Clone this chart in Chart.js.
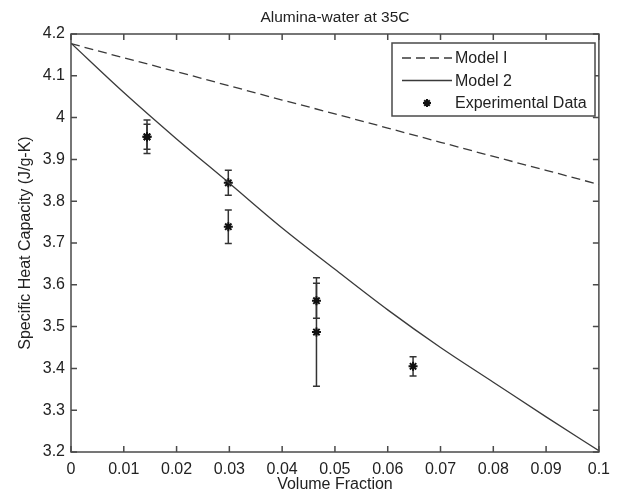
<!DOCTYPE html>
<html>
<head>
<meta charset="utf-8">
<script src="https://cdn.jsdelivr.net/npm/chart.js@4.4.1/dist/chart.umd.min.js"></script>
<style>
  html, body { margin: 0; padding: 0; background: #fff; }
  canvas { display: block; }
</style>
</head>
<body>
<canvas id="heatChart" width="618" height="494"></canvas>
<script>
// model curves at 0.01 steps
const modelPhi = [0, 0.01, 0.02, 0.03, 0.04, 0.05, 0.06, 0.07, 0.08, 0.09, 0.1];
const model1Cp = [4.177, 4.143, 4.110, 4.076, 4.042, 4.009, 3.975, 3.941, 3.907, 3.874, 3.840];
const model2Cp = [4.178, 4.060, 3.949, 3.843, 3.736, 3.637, 3.540, 3.450, 3.367, 3.284, 3.203];

// experimental points with half error bar
const expPhi = [0.0144, 0.0144, 0.0298, 0.0298, 0.0465, 0.0465, 0.0648];
const expCp  = [3.954, 3.954, 3.844, 3.739, 3.562, 3.487, 3.405];
const expErr = [0.040, 0.030, 0.030, 0.040, 0.042, 0.130, 0.023];

const xTickVals = [0, 0.01, 0.02, 0.03, 0.04, 0.05, 0.06, 0.07, 0.08, 0.09, 0.1];
const xTickLabels = ['0', '0.01', '0.02', '0.03', '0.04', '0.05', '0.06', '0.07', '0.08', '0.09', '0.1'];
const yTickVals = [3.2, 3.3, 3.4, 3.5, 3.6, 3.7, 3.8, 3.9, 4.0, 4.1, 4.2];
const yTickLabels = ['3.2', '3.3', '3.4', '3.5', '3.6', '3.7', '3.8', '3.9', '4', '4.1', '4.2'];

const seriesLabels = ['Model I', 'Model 2', 'Experimental Data'];
const titleText = 'Alumina-water at 35C';
const xTitle = 'Volume Fraction';
const yTitle = 'Specific Heat Capacity (J/g-K)';

const FONT = '"Liberation Sans", Arial, sans-serif';
const INK = '#3a3a3a';
const AXIS = '#4a4a4a';

function drawStar(ctx, x, y, r) {
    ctx.beginPath();
    ctx.moveTo(x - r, y); ctx.lineTo(x + r, y);
    ctx.moveTo(x, y - r); ctx.lineTo(x, y + r);
    const d = r * 0.7;
    ctx.moveTo(x - d, y - d); ctx.lineTo(x + d, y + d);
    ctx.moveTo(x - d, y + d); ctx.lineTo(x + d, y - d);
    ctx.stroke();
}

const matlabLook = {
    id: 'matlabLook',
    beforeDatasetsDraw(chart) {
        // error bars under the markers
        const ctx = chart.ctx;
        const xs = chart.scales.x, ys = chart.scales.y;
        ctx.save();
        ctx.strokeStyle = '#333';
        ctx.lineWidth = 1.5;
        expPhi.forEach((p, i) => {
            const px = xs.getPixelForValue(p);
            const top = ys.getPixelForValue(expCp[i] + expErr[i]);
            const bot = ys.getPixelForValue(expCp[i] - expErr[i]);
            ctx.beginPath();
            ctx.moveTo(px, top); ctx.lineTo(px, bot);
            ctx.moveTo(px - 3.5, top); ctx.lineTo(px + 3.5, top);
            ctx.moveTo(px - 3.5, bot); ctx.lineTo(px + 3.5, bot);
            ctx.stroke();
        });
        ctx.restore();
    },
    afterDraw(chart) {
        const ctx = chart.ctx;
        const a = chart.chartArea;
        const xs = chart.scales.x, ys = chart.scales.y;
        ctx.save();

        // box and inward ticks on all four sides
        ctx.strokeStyle = AXIS;
        ctx.lineWidth = 1.5;
        ctx.strokeRect(a.left, a.top, a.right - a.left, a.bottom - a.top);
        ctx.beginPath();
        xTickVals.forEach(v => {
            const px = xs.getPixelForValue(v);
            ctx.moveTo(px, a.bottom); ctx.lineTo(px, a.bottom - 6);
            ctx.moveTo(px, a.top); ctx.lineTo(px, a.top + 6);
        });
        yTickVals.forEach(v => {
            const py = ys.getPixelForValue(v);
            ctx.moveTo(a.left, py); ctx.lineTo(a.left + 6, py);
            ctx.moveTo(a.right, py); ctx.lineTo(a.right - 6, py);
        });
        ctx.stroke();

        // title and axis titles
        ctx.fillStyle = '#222';
        ctx.textAlign = 'center';
        ctx.textBaseline = 'middle';
        ctx.font = '15.5px ' + FONT;
        ctx.fillText(titleText, (a.left + a.right) / 2, 18);
        ctx.font = '16px ' + FONT;
        ctx.fillText(xTitle, (a.left + a.right) / 2, 485);
        ctx.save();
        ctx.translate(26, (a.top + a.bottom) / 2);
        ctx.rotate(-Math.PI / 2);
        ctx.fillText(yTitle, 0, 0);
        ctx.restore();

        // legend box
        const lx = 392, ly = 43, lw = 203, lh = 73;
        ctx.fillStyle = '#fff';
        ctx.fillRect(lx, ly, lw, lh);
        ctx.strokeStyle = AXIS;
        ctx.lineWidth = 1.5;
        ctx.strokeRect(lx, ly, lw, lh);
        const rows = [58, 80.5, 103];
        ctx.strokeStyle = INK;
        ctx.lineWidth = 1.3;
        ctx.setLineDash([9, 5]);
        ctx.beginPath(); ctx.moveTo(402, rows[0]); ctx.lineTo(452, rows[0]); ctx.stroke();
        ctx.setLineDash([]);
        ctx.beginPath(); ctx.moveTo(402, rows[1]); ctx.lineTo(452, rows[1]); ctx.stroke();
        ctx.strokeStyle = '#111';
        ctx.lineWidth = 2;
        drawStar(ctx, 427, rows[2], 4);
        ctx.fillStyle = '#222';
        ctx.textAlign = 'left';
        ctx.font = '16px ' + FONT;
        seriesLabels.forEach((t, i) => ctx.fillText(t, 455, rows[i] + 1));

        ctx.restore();
    }
};

const ctx = document.getElementById('heatChart').getContext('2d');
const heatChart = new Chart(ctx, {
    type: 'scatter',
    data: {
        datasets: [{
            label: seriesLabels[0],
            data: modelPhi.map((p, i) => ({ x: p, y: model1Cp[i] })),
            showLine: true,
            borderColor: INK,
            borderWidth: 1.3,
            borderDash: [9, 5],
            pointRadius: 0
        }, {
            label: seriesLabels[1],
            data: modelPhi.map((p, i) => ({ x: p, y: model2Cp[i] })),
            showLine: true,
            cubicInterpolationMode: 'monotone',
            borderColor: INK,
            borderWidth: 1.3,
            pointRadius: 0
        }, {
            label: seriesLabels[2],
            data: expPhi.map((p, i) => ({ x: p, y: expCp[i] })),
            showLine: false,
            pointStyle: 'star',
            pointRadius: 4.5,
            borderColor: '#111',
            backgroundColor: '#111',
            borderWidth: 2
        }]
    },
    plugins: [matlabLook],
    options: {
        responsive: false,
        animation: false,
        devicePixelRatio: 1,
        layout: { padding: { top: 34, right: 16, left: 0, bottom: 0 } },
        plugins: {
            legend: { display: false },
            tooltip: { enabled: false }
        },
        scales: {
            x: {
                type: 'linear',
                min: 0,
                max: 0.1,
                afterBuildTicks: s => { s.ticks = xTickVals.map(v => ({ value: v })); },
                afterFit: s => { s.height = 42; },
                grid: { display: false, drawTicks: false },
                border: { display: false },
                ticks: {
                    callback: (v, i) => xTickLabels[i],
                    color: '#222',
                    font: { family: FONT, size: 16 },
                    padding: 8,
                    maxRotation: 0,
                    autoSkip: false
                }
            },
            y: {
                type: 'linear',
                min: 3.2,
                max: 4.2,
                afterBuildTicks: s => { s.ticks = yTickVals.map(v => ({ value: v })); },
                afterFit: s => { s.width = 71; },
                grid: { display: false, drawTicks: false },
                border: { display: false },
                ticks: {
                    callback: (v, i) => yTickLabels[i],
                    color: '#222',
                    font: { family: FONT, size: 16 },
                    padding: 6,
                    autoSkip: false
                }
            }
        }
    }
});
</script>
</body>
</html>
